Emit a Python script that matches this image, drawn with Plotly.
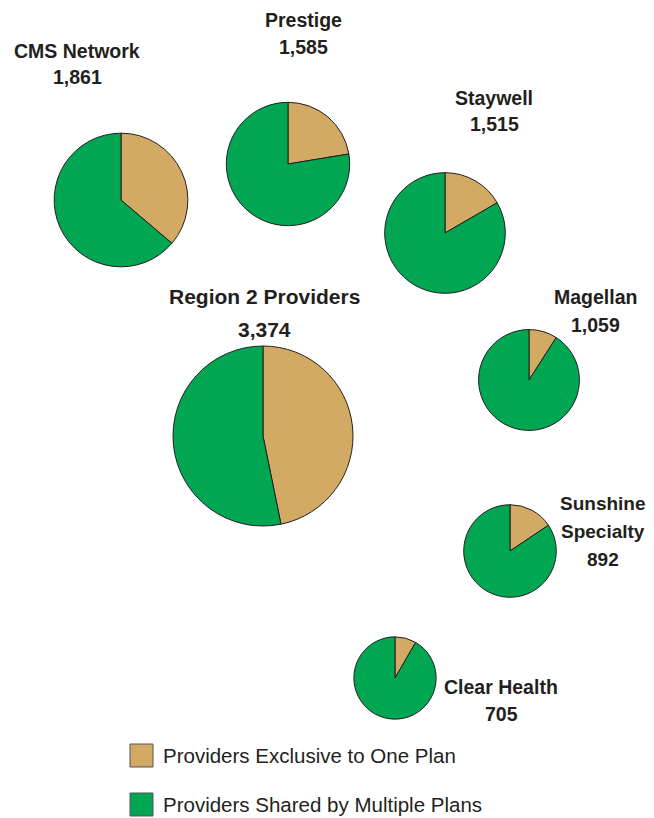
import numpy as np
import plotly.graph_objects as go

# the page body has an 8px margin, so the figure is made 8px smaller
# and all pixel positions below are given in window coordinates
OFF = 8
W, H = 654 - OFF, 818 - OFF

# data
plans = ["Region 2 Providers", "CMS Network", "Prestige", "Staywell",
         "Magellan", "Sunshine<br>Specialty", "Clear Health"]
totals = [3374, 1861, 1585, 1515, 1059, 892, 705]
exclusive = [1579, 674, 355, 252, 96, 139, 59]
shared = [1795, 1187, 1230, 1263, 963, 753, 646]
slice_names = ["Providers Exclusive to One Plan", "Providers Shared by Multiple Plans"]

# layout (window pixels): pie centres, label centre x / first line y / line gap
pie_xy = [(263, 436), (121, 200), (288, 164), (445, 233),
          (529, 380), (510, 551), (395, 678)]
label_x = [264, 77, 303, 494, 595, 603, 501]
label_y0 = [297, 50.5, 20.5, 98, 297, 503, 687]
label_gap = [33, 26.7, 26.2, 26, 27.5, 28.3, 27]
label_size = [21, 19.5, 19.5, 19.5, 19.5, 19, 19.5]
R_MAX = 90

TAN = "#D2AA64"
GREEN = "#00A651"
INK = "#231F20"
FONT = "Liberation Sans, Arial, sans-serif"


def px_x(x):
    return (x - OFF) / W


def px_y(y):
    return 1 - (y - OFF) / H


fig = go.Figure()

for i, plan in enumerate(plans):
    cx, cy = pie_xy[i]
    r = R_MAX * np.sqrt(totals[i] / totals[0])
    fig.add_trace(go.Pie(
        labels=slice_names,
        values=[exclusive[i], shared[i]],
        marker=dict(colors=[TAN, GREEN], line=dict(color=INK, width=1)),
        textinfo="none",
        sort=False,
        direction="clockwise",
        rotation=0,
        showlegend=False,
        domain=dict(x=[px_x(cx - r), px_x(cx + r)], y=[px_y(cy + r), px_y(cy - r)]),
    ))
    lines = plan.split("<br>") + ["{:,}".format(totals[i])]
    for k, line in enumerate(lines):
        fig.add_annotation(
            x=px_x(label_x[i]), y=px_y(label_y0[i] + k * label_gap[i]),
            xref="paper", yref="paper",
            text="<b>{}</b>".format(line),
            showarrow=False, xanchor="center", yanchor="middle",
            font=dict(family=FONT, size=label_size[i], color=INK),
        )

# legend drawn by hand so the spacing matches
legend_y = [755.5, 804.5]
for name, col, ly in zip(slice_names, [TAN, GREEN], legend_y):
    fig.add_shape(type="rect", xref="paper", yref="paper",
                  x0=px_x(130), x1=px_x(153), y0=px_y(ly + 11.5), y1=px_y(ly - 11.5),
                  fillcolor=col, line=dict(color="#555555", width=1))
    fig.add_annotation(x=px_x(161), y=px_y(ly), xref="paper", yref="paper",
                       text=name, showarrow=False, xanchor="left", yanchor="middle",
                       font=dict(family=FONT, size=20.5, color=INK))

fig.update_layout(
    width=W, height=H,
    margin=dict(l=0, r=0, t=0, b=0),
    paper_bgcolor="white",
    plot_bgcolor="white",
)

fig.write_html("out.html")
